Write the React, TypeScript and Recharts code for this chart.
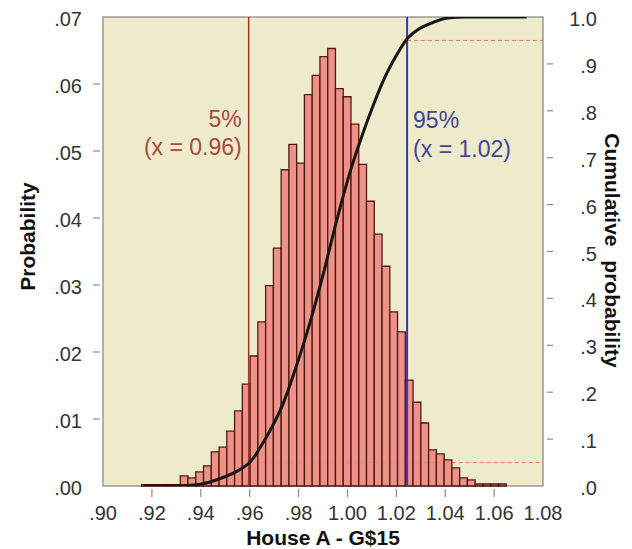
import React from 'react';
import { ComposedChart, Line, XAxis, YAxis, ReferenceArea, ReferenceLine } from 'recharts';

const FONT = '"Liberation Sans", Arial, sans-serif';

// histogram bin edges (House A - G$15) and bar heights
const binEdges = [
  0.91573, 0.9189, 0.92208, 0.92525, 0.92843, 0.9316, 0.93478, 0.93795, 0.94113, 0.9443,
  0.94748, 0.95065, 0.95383, 0.957, 0.96018, 0.96335, 0.96653, 0.9697, 0.97288, 0.97605,
  0.97923, 0.9824, 0.98558, 0.98875, 0.99193, 0.9951, 0.99828, 1.00145, 1.00463, 1.0078,
  1.01098, 1.01415, 1.01733, 1.0205, 1.02368, 1.02685, 1.03003, 1.0332, 1.03638, 1.03955,
  1.04273, 1.0459, 1.04908, 1.05225, 1.05543, 1.0586, 1.06178, 1.06495,
];
const binProbs = [
  0.0002, 0.0002, 0.0002, 0.0002, 0.0002,
  0.0015, 0.0012, 0.0021, 0.003, 0.0051, 0.0058, 0.0082, 0.0112, 0.0152, 0.0194,
  0.0245, 0.0299, 0.0355, 0.0472, 0.051, 0.0482, 0.0584, 0.0613, 0.0641, 0.0653,
  0.0593, 0.0581, 0.054, 0.048, 0.0425, 0.0376, 0.0328, 0.026, 0.023, 0.0158,
  0.0125, 0.0094, 0.0054, 0.0048, 0.0039, 0.0027, 0.0012, 0.0009,
  0.0003, 0.0003, 0.0003, 0.0003,
];

// cumulative curve
const cumX = [
  0.9166, 0.93, 0.9398, 0.948, 0.9563, 0.96, 0.9658, 0.974, 0.9795, 0.9834, 0.9905, 0.9953,
  1.0014, 1.0042, 1.0097, 1.0151, 1.0206, 1.024, 1.0288, 1.0343, 1.0411, 1.048, 1.0733,
];
const cumP = [
  0, 0.0005, 0.004, 0.016, 0.036, 0.05, 0.095, 0.18, 0.262, 0.326, 0.46, 0.56,
  0.675, 0.72, 0.8, 0.869, 0.923, 0.951, 0.973, 0.987, 0.998, 1.0, 1.0,
];

const xTicks = [0.9, 0.92, 0.94, 0.96, 0.98, 1.0, 1.02, 1.04, 1.06, 1.08];
const probTicks = [0, 0.01, 0.02, 0.03, 0.04, 0.05, 0.06, 0.07];
const cumTicks = [0, 0.1, 0.2, 0.3, 0.4, 0.5, 0.6, 0.7, 0.8, 0.9, 1.0];

const lowerX = 0.9596;
const upperX = 1.0244;

const chartData = cumX.map((x, i) => ({ x, c: cumP[i] }));

const trimZero = (s: string) => s.replace(/^0\./, '.');

const tickText = { fontFamily: FONT, fontSize: 20, fill: '#333' };
const tickColor = '#8c8c8c';

const LeftTick = ({ x, y, payload }: any) => {
  const v = payload.value;
  const edge = v === probTicks[0] || v === probTicks[probTicks.length - 1];
  return (
    <g>
      {!edge && <line x1={x - 10} x2={x - 3} y1={y} y2={y} stroke={tickColor} strokeWidth={1.2} />}
      <text x={x - 21} y={y + 9} textAnchor="end" {...tickText}>{trimZero(v.toFixed(2))}</text>
    </g>
  );
};

const RightTick = ({ x, y, payload }: any) => {
  const v = payload.value;
  const edge = v === cumTicks[0] || v === cumTicks[cumTicks.length - 1];
  return (
    <g>
      {!edge && <line x1={x + 4} x2={x + 10} y1={y} y2={y} stroke={tickColor} strokeWidth={1.2} />}
      <text x={x + 54} y={y + 9} textAnchor="end" {...tickText}>{trimZero(v.toFixed(1))}</text>
    </g>
  );
};

const BottomTick = ({ x, y, payload }: any) => {
  const v = payload.value;
  const edge = v === xTicks[0] || v === xTicks[xTicks.length - 1];
  return (
    <g>
      {!edge && <line x1={x} x2={x} y1={y + 3} y2={y + 11} stroke={tickColor} strokeWidth={1.2} />}
      <text x={x} y={y + 34} textAnchor="middle" {...tickText}>{trimZero(v.toFixed(2))}</text>
    </g>
  );
};

const titleStyle = { fontFamily: FONT, fontSize: 21, fontWeight: 'bold' as const, fill: '#111' };

export default function App() {
  return (
    <div style={{ position: 'absolute', left: 0, top: 0, width: 632, height: 549, background: '#fff' }}>
      <ComposedChart width={632} height={549} data={chartData} margin={{ top: 17, right: 0, bottom: 0, left: 0 }}>
        <XAxis
          dataKey="x"
          type="number"
          domain={[0.9, 1.08]}
          ticks={xTicks}
          interval={0}
          allowDataOverflow
          height={63}
          tickSize={0}
          tickMargin={0}
          axisLine={false}
          tickLine={false}
          tick={<BottomTick />}
          label={{
            content: ({ viewBox }: any) => (
              <text x={viewBox.x + viewBox.width / 2} y={viewBox.y + 59} textAnchor="middle" {...titleStyle}>
                House A - G$15
              </text>
            ),
          }}
        />
        <YAxis
          yAxisId="left"
          type="number"
          domain={[0, 0.07]}
          allowDataOverflow
          ticks={probTicks}
          interval={0}
          width={103}
          tickSize={0}
          tickMargin={0}
          axisLine={false}
          tickLine={false}
          tick={<LeftTick />}
          label={{
            content: ({ viewBox }: any) => {
              const cx = viewBox.x + 27;
              const cy = viewBox.y + viewBox.height / 2 - 15;
              return (
                <text x={cx} y={cy} transform={`rotate(-90 ${cx} ${cy})`} textAnchor="middle" dominantBaseline="central" {...titleStyle}>
                  Probability
                </text>
              );
            },
          }}
        />
        <YAxis
          yAxisId="right"
          type="number"
          orientation="right"
          domain={[0, 1]}
          allowDataOverflow
          ticks={cumTicks}
          interval={0}
          width={89}
          tickSize={0}
          tickMargin={0}
          axisLine={false}
          tickLine={false}
          tick={<RightTick />}
          label={{
            content: ({ viewBox }: any) => {
              const cx = viewBox.x + 69;
              const cy = viewBox.y + viewBox.height / 2 - 1;
              return (
                <text x={cx} y={cy} transform={`rotate(90 ${cx} ${cy})`} textAnchor="middle" dominantBaseline="central" wordSpacing={8} {...titleStyle}>
                  Cumulative probability
                </text>
              );
            },
          }}
        />

        {/* plot background + frame */}
        <ReferenceArea
          yAxisId="left"
          x1={0.9}
          x2={1.08}
          y1={0}
          y2={0.07}
          fill="#EDEBCA"
          fillOpacity={1}
          stroke="#9a9a9a"
          strokeWidth={1.5}
          zIndex={-100}
        />
        <ReferenceLine
          yAxisId="right"
          segment={[{ x: lowerX, y: 0.05 }, { x: 1.08, y: 0.05 }]}
          stroke="#E2725F"
          strokeDasharray="4 3"
          strokeWidth={1}
          zIndex={-90}
        />

        {binProbs.map((p, i) => (
          <ReferenceArea
            key={i}
            yAxisId="left"
            x1={binEdges[i]}
            x2={binEdges[i + 1]}
            y1={0}
            y2={p}
            fill="#EE8A81"
            fillOpacity={0.93}
            stroke="#4e1a15"
            strokeWidth={1.3}
            zIndex={-50}
          />
        ))}

        <ReferenceLine
          yAxisId="right"
          segment={[{ x: upperX, y: 0.95 }, { x: 1.08, y: 0.95 }]}
          stroke="#E2725F"
          strokeDasharray="4 3"
          strokeWidth={1}
          zIndex={300}
        />
        <ReferenceLine
          yAxisId="left"
          x={lowerX}
          stroke="#A5352B"
          strokeWidth={1.5}
          zIndex={300}
          label={{
            content: ({ viewBox }: any) => (
              <text textAnchor="end" fontFamily={FONT} fontSize={23} fill="#A8493F">
                <tspan x={viewBox.x - 7} y={viewBox.y + 110}>5%</tspan>
                <tspan x={viewBox.x - 7} y={viewBox.y + 138}>(x = 0.96)</tspan>
              </text>
            ),
          }}
        />
        <ReferenceLine
          yAxisId="left"
          x={upperX}
          stroke="#3B3B9C"
          strokeWidth={2}
          zIndex={300}
          label={{
            content: ({ viewBox }: any) => (
              <text textAnchor="start" fontFamily={FONT} fontSize={23} fill="#44449A">
                <tspan x={viewBox.x + 6} y={viewBox.y + 111}>95%</tspan>
                <tspan x={viewBox.x + 6} y={viewBox.y + 140}>(x = 1.02)</tspan>
              </text>
            ),
          }}
        />

        <Line
          yAxisId="right"
          dataKey="c"
          type="monotone"
          stroke="#161616"
          strokeWidth={3}
          dot={false}
          activeDot={false}
          isAnimationActive={false}
          zIndex={600}
        />
      </ComposedChart>
    </div>
  );
}
